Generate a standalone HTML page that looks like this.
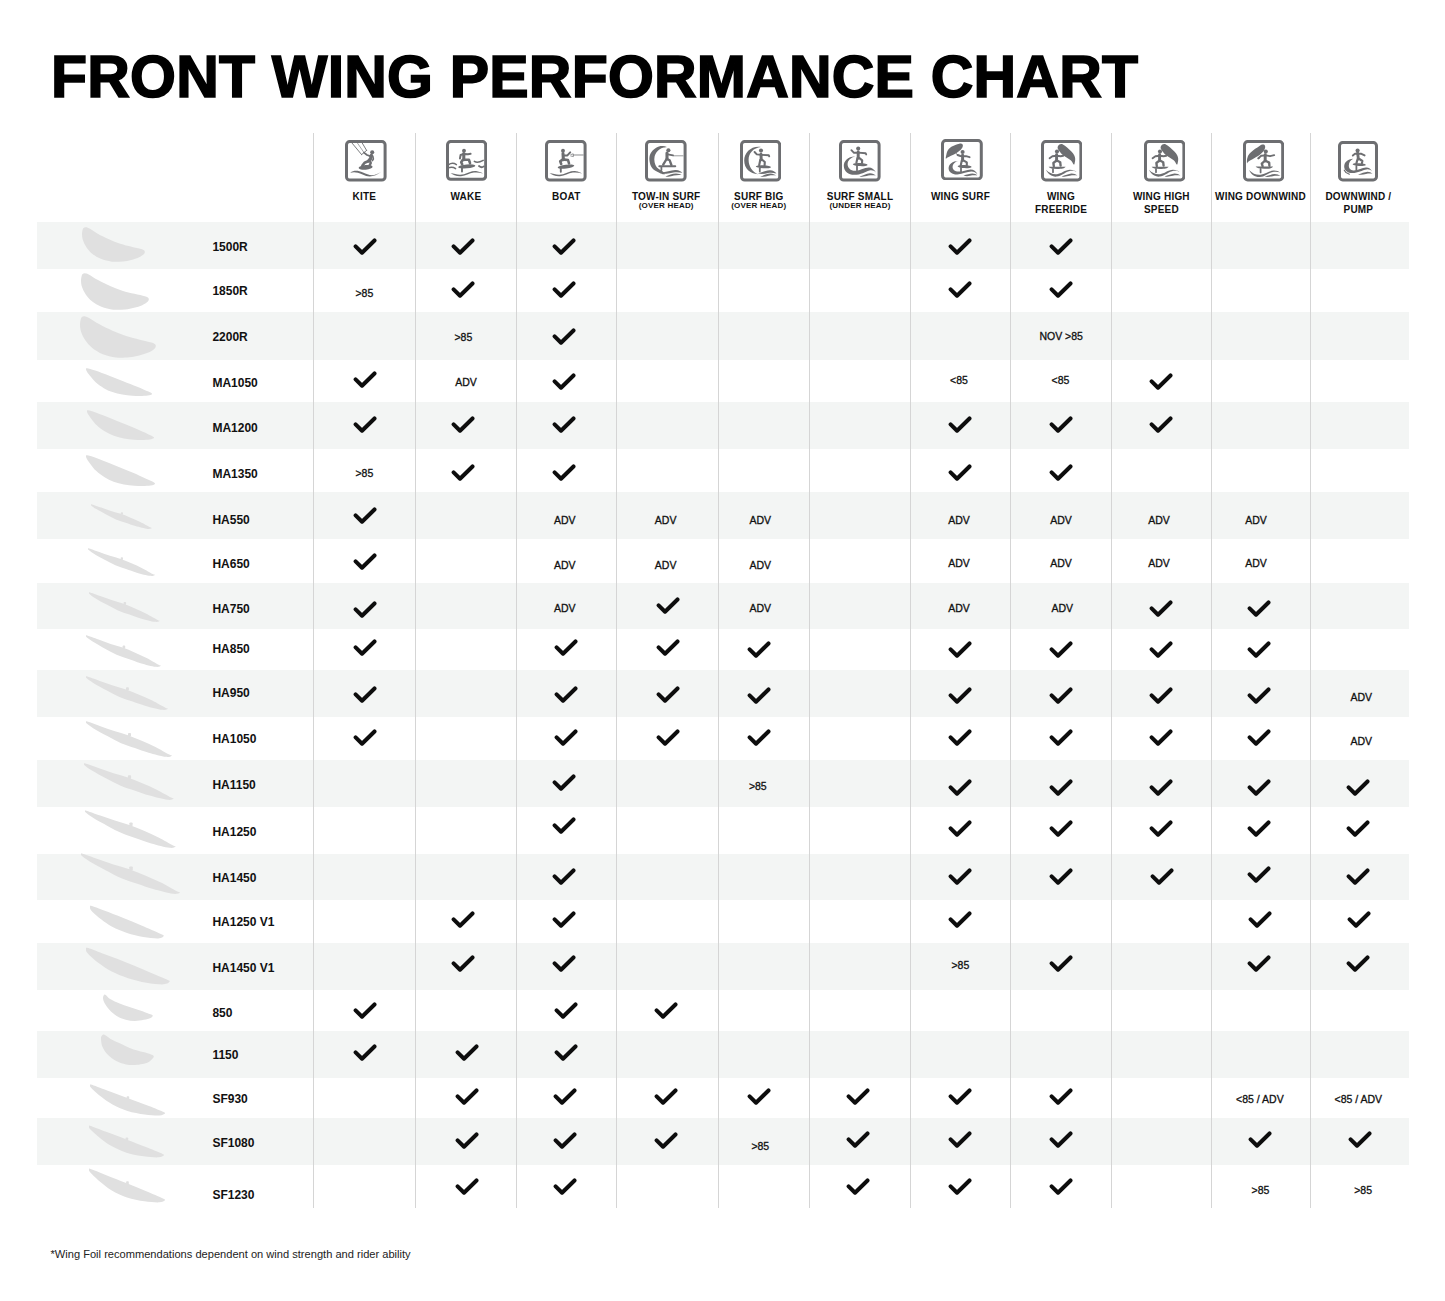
<!DOCTYPE html>
<html><head><meta charset="utf-8"><title>Front Wing Performance Chart</title>
<style>
html,body{margin:0;padding:0;background:#fff;}
body{width:1445px;height:1301px;position:relative;overflow:hidden;font-family:"Liberation Sans",sans-serif;color:#111;}
.a{position:absolute;}
h1{position:absolute;margin:0;left:51px;top:37px;font-size:59px;font-weight:bold;letter-spacing:0.2px;line-height:80px;white-space:nowrap;color:#000;-webkit-text-stroke:1.6px #000;}
.row{position:absolute;left:37px;width:1372px;background:#f3f5f4;}
.vl{position:absolute;top:133px;height:1075px;width:1px;background:#d5d5d5;}
.ck{position:absolute;fill:none;stroke:#0d0d0d;stroke-width:4;stroke-linecap:round;stroke-linejoin:round;}
.t{position:absolute;font-size:10.5px;line-height:12px;white-space:nowrap;text-align:center;width:100px;-webkit-text-stroke:0.3px #111;}
.lbl{position:absolute;left:212.4px;font-size:12px;font-weight:bold;line-height:14px;white-space:nowrap;}
.hd{position:absolute;top:191px;width:110px;text-align:center;font-weight:bold;font-size:10px;line-height:12.7px;white-space:nowrap;letter-spacing:0.2px;}
.hd small{display:block;font-size:8px;line-height:10px;margin-top:-3px;}
.ic{position:absolute;top:140px;width:42px;height:42px;}
.w{position:absolute;fill:#e0e0e0;}
.foot{position:absolute;left:50.5px;top:1246px;font-size:11.1px;line-height:16px;color:#222;white-space:nowrap;}
</style></head><body>
<h1>FRONT WING PERFORMANCE CHART</h1>

<div class="row" style="top:222px;height:47px"></div>
<div class="row" style="top:312px;height:48px"></div>
<div class="row" style="top:402px;height:47px"></div>
<div class="row" style="top:492px;height:47px"></div>
<div class="row" style="top:583px;height:46px"></div>
<div class="row" style="top:670px;height:47px"></div>
<div class="row" style="top:760px;height:47px"></div>
<div class="row" style="top:854px;height:46px"></div>
<div class="row" style="top:943px;height:47px"></div>
<div class="row" style="top:1031px;height:47px"></div>
<div class="row" style="top:1118px;height:47px"></div>
<div class="vl" style="left:313px"></div>
<div class="vl" style="left:415px"></div>
<div class="vl" style="left:516px"></div>
<div class="vl" style="left:616px"></div>
<div class="vl" style="left:718px"></div>
<div class="vl" style="left:809px"></div>
<div class="vl" style="left:910px"></div>
<div class="vl" style="left:1010px"></div>
<div class="vl" style="left:1111px"></div>
<div class="vl" style="left:1211px"></div>
<div class="vl" style="left:1310px"></div>
<div class="hd" style="left:309.4px">KITE</div>
<div class="hd" style="left:410.9px">WAKE</div>
<div class="hd" style="left:511.3px">BOAT</div>
<div class="hd" style="left:611.2px">TOW-IN SURF<small>(OVER HEAD)</small></div>
<div class="hd" style="left:703.8px">SURF BIG<small>(OVER HEAD)</small></div>
<div class="hd" style="left:805.0px">SURF SMALL<small>(UNDER HEAD)</small></div>
<div class="hd" style="left:905.5px">WING SURF</div>
<div class="hd" style="left:1006.0px">WING<br>FREERIDE</div>
<div class="hd" style="left:1106.4px">WING HIGH<br>SPEED</div>
<div class="hd" style="left:1205.5px">WING DOWNWIND</div>
<div class="hd" style="left:1303.4px">DOWNWIND /<br>PUMP</div>
<svg class="ic" style="left:345.2px;top:140px;width:41.6px;height:41.6px" viewBox="0 0 41.6 41.6"><rect x="1.5" y="1.5" width="38.6" height="38.6" rx="3.2" fill="none" stroke="#6d6e71" stroke-width="3"/><path d="M6.8 2.8 L16.6 14.6" fill="none" stroke="#6d6e71" stroke-width="0.90" stroke-linecap="round" stroke-linejoin="round"/><path d="M12.4 3 L19 12.6" fill="none" stroke="#6d6e71" stroke-width="0.60" stroke-linecap="round" stroke-linejoin="round"/><path d="M17.2 3 L21.6 10.4" fill="none" stroke="#6d6e71" stroke-width="0.90" stroke-linecap="round" stroke-linejoin="round"/><path d="M16.6 14.6 L21.6 10.4" fill="none" stroke="#6d6e71" stroke-width="0.90" stroke-linecap="round" stroke-linejoin="round"/><circle cx="27.2" cy="12.2" r="2.05" fill="#6d6e71"/><path d="M19 12.6 L22 15 L25.2 16.2" fill="none" stroke="#6d6e71" stroke-width="1.77" stroke-linecap="round" stroke-linejoin="round"/><path d="M26.4 15.4 L25.6 18.6 L23.6 21" fill="none" stroke="#6d6e71" stroke-width="3.30" stroke-linecap="round" stroke-linejoin="round"/><path d="M27.8 16 L28.4 19 L27.4 20.6" fill="none" stroke="#6d6e71" stroke-width="1.53" stroke-linecap="round" stroke-linejoin="round"/><path d="M23.6 21 L19.6 22.8 L17.4 25.6" fill="none" stroke="#6d6e71" stroke-width="2.60" stroke-linecap="round" stroke-linejoin="round"/><path d="M25 21 L25.8 23 L24.6 25.4" fill="none" stroke="#6d6e71" stroke-width="2.36" stroke-linecap="round" stroke-linejoin="round"/><ellipse cx="20.6" cy="27.4" rx="7" ry="2.3" transform="rotate(-5 20.6 27.4)" fill="#6d6e71"/><path d="M5.2 32.8 C9 30 13 30.4 18 32.6 C24 35.4 29 37 36.4 31.6 C30 36.8 24 38 17.6 34.6 C12 32 9 31.6 5.2 32.8 Z" fill="#6d6e71"/></svg>
<svg class="ic" style="left:445.6px;top:140px;width:41.2px;height:40.8px" viewBox="0 0 41.2 40.8"><rect x="1.5" y="1.5" width="38.2" height="37.8" rx="3.2" fill="none" stroke="#6d6e71" stroke-width="3"/><circle cx="18" cy="10.8" r="1.94" fill="#6d6e71"/><path d="M17.8 13.6 L17.8 19.8" fill="none" stroke="#6d6e71" stroke-width="3.07" stroke-linecap="round" stroke-linejoin="round"/><path d="M14 18.4 L14.6 15 L17.6 14 L22 14.2 L24.6 13.8" fill="none" stroke="#6d6e71" stroke-width="2.01" stroke-linecap="round" stroke-linejoin="round"/><path d="M16.8 19.8 L15.2 22.2 L16.2 24.4" fill="none" stroke="#6d6e71" stroke-width="2.60" stroke-linecap="round" stroke-linejoin="round"/><path d="M18.8 19.8 L23 19.8 L24 23.2" fill="none" stroke="#6d6e71" stroke-width="2.60" stroke-linecap="round" stroke-linejoin="round"/><ellipse cx="20.8" cy="26.4" rx="8.6" ry="1.9" transform="rotate(-5 20.8 26.4)" fill="#6d6e71"/><path d="M16 28 L16 31.6" fill="none" stroke="#6d6e71" stroke-width="1.89" stroke-linecap="round" stroke-linejoin="round"/><path d="M4.6 33 C9 34 13 35.4 18 34.2 C22 33.2 26 30.4 31 31.2 C33.5 31.6 35.5 32.4 37 33.6 C34 32.6 31 32.2 28 32.6 C23 33.4 20 36 15 36.2 C10 36.4 7 35 4.6 33 Z" fill="#6d6e71"/><path d="M2.4 24.8 Q6.4 22 10.4 24.6" fill="none" stroke="#6d6e71" stroke-width="1.5" stroke-linecap="round"/><path d="M2.4 27.8 Q6.6 26.6 9.6 28.6" fill="none" stroke="#6d6e71" stroke-width="1.5" stroke-linecap="round"/><path d="M28.4 21.4 Q31.6 23.4 37.2 20.4" fill="none" stroke="#6d6e71" stroke-width="1.6" stroke-linecap="round"/><path d="M33 26 Q35.6 28.2 37.8 26.4" fill="none" stroke="#6d6e71" stroke-width="1.8" stroke-linecap="round"/></svg>
<svg class="ic" style="left:545.2px;top:140px;width:41.6px;height:41.6px" viewBox="0 0 41.6 41.6"><rect x="1.5" y="1.5" width="38.6" height="38.6" rx="3.2" fill="none" stroke="#6d6e71" stroke-width="3"/><circle cx="18" cy="10.8" r="1.94" fill="#6d6e71"/><path d="M18 13.6 L18.4 19.6" fill="none" stroke="#6d6e71" stroke-width="3.07" stroke-linecap="round" stroke-linejoin="round"/><path d="M19.2 15.6 L22.4 15.4 L25.2 12.4" fill="none" stroke="#6d6e71" stroke-width="2.01" stroke-linecap="round" stroke-linejoin="round"/><path d="M25.8 14.6 L28.2 13.8 L28.4 16.6 L25.8 16" fill="none" stroke="#6d6e71" stroke-width="0.70" stroke-linecap="round" stroke-linejoin="round"/><path d="M28.4 15 L38.2 15" fill="none" stroke="#6d6e71" stroke-width="0.80" stroke-linecap="round" stroke-linejoin="round"/><path d="M17.6 19.6 L15.2 21.4 L16.2 24" fill="none" stroke="#6d6e71" stroke-width="2.60" stroke-linecap="round" stroke-linejoin="round"/><path d="M19.4 19.6 L23 20 L24 23.4" fill="none" stroke="#6d6e71" stroke-width="2.60" stroke-linecap="round" stroke-linejoin="round"/><ellipse cx="21" cy="26.6" rx="8.4" ry="1.9" transform="rotate(-7 21 26.6)" fill="#6d6e71"/><path d="M15.8 28.6 L15.8 31.8" fill="none" stroke="#6d6e71" stroke-width="1.89" stroke-linecap="round" stroke-linejoin="round"/><path d="M4.6 33 C9 34 13 35.4 18 34.2 C22 33.2 26 30.4 31 31.2 C33.5 31.6 35.5 32.4 37 33.6 C34 32.6 31 32.2 28 32.6 C23 33.4 20 36 15 36.2 C10 36.4 7 35 4.6 33 Z" fill="#6d6e71"/></svg>
<svg class="ic" style="left:645.2px;top:140px;width:41.6px;height:41.6px" viewBox="0 0 41.6 41.6"><rect x="1.5" y="1.5" width="38.6" height="38.6" rx="3.2" fill="none" stroke="#6d6e71" stroke-width="3"/><path d="M21.80 7.00 C21.53 6.67 16.97 5.80 14.80 6.20 C12.63 6.60 10.40 8.07 8.80 9.40 C7.20 10.73 5.93 12.47 5.20 14.20 C4.47 15.93 4.27 17.80 4.40 19.80 C4.53 21.80 5.07 24.40 6.00 26.20 C6.93 28.00 8.40 29.40 10.00 30.60 C11.60 31.80 13.93 32.80 15.60 33.40 C17.27 34.00 19.73 34.60 20.00 34.20 C20.27 33.80 18.53 32.13 17.20 31.00 C15.87 29.87 13.27 28.87 12.00 27.40 C10.73 25.93 10.00 24.00 9.60 22.20 C9.20 20.40 9.20 18.33 9.60 16.60 C10.00 14.87 10.87 13.20 12.00 11.80 C13.13 10.40 14.77 9.00 16.40 8.20 C18.03 7.40 22.07 7.33 21.80 7.00Z" fill="#6d6e71"/><path d="M15 32.4 C21 32.8 26 29.6 31 30 C34 30.2 36 31.4 37.4 32.8 C34.6 32.4 31.6 32 28.4 32.6 C24 33.6 20 34.6 15 32.4 Z" fill="#6d6e71"/><path d="M20.4 36.4 C24 35.6 27 33.6 31 33.6 C33.6 33.6 35.4 34.4 36.6 35 C34 34.8 31.6 34.8 29 35.6 C26 36.6 23.6 37 20.4 36.4 Z" fill="#6d6e71"/><circle cx="23.4" cy="10.2" r="2.05" fill="#6d6e71"/><path d="M22 13 L22 19" fill="none" stroke="#6d6e71" stroke-width="3.07" stroke-linecap="round" stroke-linejoin="round"/><path d="M22.8 14.4 L28 15.4" fill="none" stroke="#6d6e71" stroke-width="1.89" stroke-linecap="round" stroke-linejoin="round"/><path d="M28.4 15.8 L38 15.8" fill="none" stroke="#6d6e71" stroke-width="0.70" stroke-linecap="round" stroke-linejoin="round"/><path d="M21.6 19 L18.2 24.6" fill="none" stroke="#6d6e71" stroke-width="2.36" stroke-linecap="round" stroke-linejoin="round"/><path d="M22.6 19.2 L24.6 20.2 L26.4 25" fill="none" stroke="#6d6e71" stroke-width="2.36" stroke-linecap="round" stroke-linejoin="round"/><path d="M14.4 26.2 L30.2 26.2" fill="none" stroke="#6d6e71" stroke-width="2.12" stroke-linecap="round" stroke-linejoin="round"/><path d="M16.4 27 L16.4 30" fill="none" stroke="#6d6e71" stroke-width="1.77" stroke-linecap="round" stroke-linejoin="round"/></svg>
<svg class="ic" style="left:740.0px;top:140px;width:41.2px;height:41.6px" viewBox="0 0 41.2 41.6"><rect x="1.5" y="1.5" width="38.2" height="38.6" rx="3.2" fill="none" stroke="#6d6e71" stroke-width="3"/><path d="M21 7 C11.4 5.6 4.2 12.4 4.2 20.6 C4.2 28.4 10 34.2 18 34.2 C12.6 32 8.6 26.6 8.6 19.8 C8.6 13 13.6 7.8 21 7 Z" fill="#6d6e71"/><path d="M17.6 33 C22 33 25.4 30 30.2 30.2 C33 30.4 35 31.6 36.6 33.6 C33.8 32.8 31 32.4 28 33 C24.4 33.8 21.4 34.6 17.6 33 Z" fill="#6d6e71"/><path d="M20.2 36.4 C24 35.6 27 33.6 30.6 33.6 C33 33.6 34.6 34.6 36 35.6 C33.6 35.2 31.4 35.2 28.6 35.8 C25.6 36.6 23.4 37 20.2 36.4 Z" fill="#6d6e71"/><circle cx="21" cy="10.6" r="2.05" fill="#6d6e71"/><path d="M14.6 12 L16.8 14.4 L21 14.8 L28.8 15.2 L29.2 16.4" fill="none" stroke="#6d6e71" stroke-width="1.89" stroke-linecap="round" stroke-linejoin="round"/><path d="M21 14.2 L21.2 19.8" fill="none" stroke="#6d6e71" stroke-width="2.95" stroke-linecap="round" stroke-linejoin="round"/><path d="M20.3 19.8 L19.2 25.2" fill="none" stroke="#6d6e71" stroke-width="2.12" stroke-linecap="round" stroke-linejoin="round"/><path d="M22.2 19.8 L24.8 22 L24.6 25.2" fill="none" stroke="#6d6e71" stroke-width="2.12" stroke-linecap="round" stroke-linejoin="round"/><ellipse cx="23.4" cy="26.8" rx="7.6" ry="1.5" transform="rotate(3 23.4 26.8)" fill="#6d6e71"/><path d="M19.8 28.2 L19.8 31.6" fill="none" stroke="#6d6e71" stroke-width="1.77" stroke-linecap="round" stroke-linejoin="round"/></svg>
<svg class="ic" style="left:839.2px;top:140px;width:41.6px;height:41.6px" viewBox="0 0 41.6 41.6"><rect x="1.5" y="1.5" width="38.6" height="38.6" rx="3.2" fill="none" stroke="#6d6e71" stroke-width="3"/><path d="M16.2 16.4 C9 16.2 4.6 21 4.8 26 C5 31.4 9.4 34.8 15.2 34.8 C22 34.8 26 31.6 30.4 30.4 C33.2 29.8 35.4 30.6 37 32.6 C35 29 32.6 27.6 30 27.6 C25 27.8 21.6 30.6 16.4 30.8 C11.6 31 8.6 27.6 8.6 24.2 C8.6 20.4 11.8 17.4 16.2 16.4 Z" fill="#6d6e71"/><path d="M20.4 36.4 C24 35.6 27 33.4 31 33.2 C33.6 33.2 35.6 34.2 36.8 35.6 C34.4 35 32 35 29.4 35.6 C26 36.4 23.6 37 20.4 36.4 Z" fill="#6d6e71"/><circle cx="19.2" cy="8.6" r="2.05" fill="#6d6e71"/><path d="M12.4 10.2 L15 12.8 L19.4 12.6 L26.6 13.2 L27.2 14.4" fill="none" stroke="#6d6e71" stroke-width="1.89" stroke-linecap="round" stroke-linejoin="round"/><path d="M19.2 12 L19.2 18.2" fill="none" stroke="#6d6e71" stroke-width="2.95" stroke-linecap="round" stroke-linejoin="round"/><path d="M18.4 18.2 L17.4 22.8" fill="none" stroke="#6d6e71" stroke-width="2.12" stroke-linecap="round" stroke-linejoin="round"/><path d="M20.4 18.2 L23.2 20.4 L23 23" fill="none" stroke="#6d6e71" stroke-width="2.12" stroke-linecap="round" stroke-linejoin="round"/><ellipse cx="21.2" cy="24.6" rx="7.4" ry="1.5" transform="rotate(3 21.2 24.6)" fill="#6d6e71"/><path d="M18 26 L18 30.2" fill="none" stroke="#6d6e71" stroke-width="1.77" stroke-linecap="round" stroke-linejoin="round"/></svg>
<svg class="ic" style="left:941.0px;top:138.6px;width:41.8px;height:41.4px" viewBox="0 0 41.8 41.4"><rect x="1.5" y="1.5" width="38.8" height="38.4" rx="3.2" fill="none" stroke="#6d6e71" stroke-width="3"/><path d="M4.80 19.60 C4.60 19.10 5.10 16.90 5.40 15.60 C5.70 14.30 5.83 13.07 6.60 11.80 C7.37 10.53 8.37 9.10 10.00 8.00 C11.63 6.90 14.73 5.80 16.40 5.20 C18.07 4.60 19.10 4.30 20.00 4.40 C20.90 4.50 21.57 5.13 21.80 5.80 C22.03 6.47 21.90 7.43 21.40 8.40 C20.90 9.37 19.90 10.60 18.80 11.60 C17.70 12.60 16.27 13.53 14.80 14.40 C13.33 15.27 11.37 16.10 10.00 16.80 C8.63 17.50 7.47 18.13 6.60 18.60 C5.73 19.07 5.00 20.10 4.80 19.60Z" fill="#6d6e71"/><path d="M15.4 14.8 L17.4 16.2" fill="none" stroke="#6d6e71" stroke-width="1.00" stroke-linecap="round" stroke-linejoin="round"/><circle cx="21.6" cy="13" r="2.05" fill="#6d6e71"/><path d="M16.6 16 L19.4 17 L25 17.2 L28.6 18.2" fill="none" stroke="#6d6e71" stroke-width="1.89" stroke-linecap="round" stroke-linejoin="round"/><path d="M21.6 16.2 L21.6 21.6" fill="none" stroke="#6d6e71" stroke-width="2.95" stroke-linecap="round" stroke-linejoin="round"/><path d="M20.8 21.6 L19.8 26.2" fill="none" stroke="#6d6e71" stroke-width="2.12" stroke-linecap="round" stroke-linejoin="round"/><path d="M22.8 21.6 L25.8 23.4 L25.8 26.2" fill="none" stroke="#6d6e71" stroke-width="2.12" stroke-linecap="round" stroke-linejoin="round"/><ellipse cx="23.6" cy="27.6" rx="7" ry="1.5" transform="rotate(3 23.6 27.6)" fill="#6d6e71"/><path d="M20 28.8 L20 32.6" fill="none" stroke="#6d6e71" stroke-width="1.77" stroke-linecap="round" stroke-linejoin="round"/><path d="M17.4 22 C11.4 22 7.6 25.4 7.6 29.4 C7.8 33 11.4 35.6 16.4 35.4 C22 35.2 26 32.6 30.4 32.6 C33 32.6 35 33.6 36.6 35.6 C35 31.8 32.8 30.4 29.6 30.4 C25.4 30.6 22 32.6 17.6 32.6 C13.6 32.6 11.6 30.4 11.6 28.2 C11.6 25 14 22.8 17.4 22 Z" fill="#6d6e71"/><path d="M22.4 36.4 C26 35.8 28.6 34.6 31.4 34.6 C33.6 34.6 35.2 35.4 36.2 36.4 C33.6 36.2 31.4 36.2 29 36.8 C26.6 37.4 24.6 37.4 22.4 36.4 Z" fill="#6d6e71"/></svg>
<svg class="ic" style="left:1040.6px;top:140.2px;width:41.4px;height:41.4px" viewBox="0 0 41.4 41.4"><rect x="1.5" y="1.5" width="38.4" height="38.4" rx="3.2" fill="none" stroke="#6d6e71" stroke-width="3"/><path d="M16.80 6.60 C17.07 5.87 17.60 4.80 18.40 4.40 C19.20 4.00 20.27 3.63 21.60 4.20 C22.93 4.77 24.93 6.57 26.40 7.80 C27.87 9.03 29.27 10.37 30.40 11.60 C31.53 12.83 32.57 14.00 33.20 15.20 C33.83 16.40 34.10 17.60 34.20 18.80 C34.30 20.00 34.03 21.43 33.80 22.40 C33.57 23.37 33.43 24.90 32.80 24.60 C32.17 24.30 31.20 21.77 30.00 20.60 C28.80 19.43 27.00 18.57 25.60 17.60 C24.20 16.63 22.80 15.87 21.60 14.80 C20.40 13.73 19.20 12.20 18.40 11.20 C17.60 10.20 17.07 9.57 16.80 8.80 C16.53 8.03 16.53 7.33 16.80 6.60Z" fill="#6d6e71"/><circle cx="16" cy="11.6" r="2.05" fill="#6d6e71"/><path d="M8.6 18.2 L11.4 16.2 L15.8 15.8 L19.6 16.2 L22.2 15.8" fill="none" stroke="#6d6e71" stroke-width="1.89" stroke-linecap="round" stroke-linejoin="round"/><path d="M15.6 14.8 L15.6 20.8" fill="none" stroke="#6d6e71" stroke-width="2.95" stroke-linecap="round" stroke-linejoin="round"/><path d="M15 20.8 L12.4 23 L12.8 26.2" fill="none" stroke="#6d6e71" stroke-width="2.36" stroke-linecap="round" stroke-linejoin="round"/><path d="M16.4 20.8 L19.2 22.2 L19.6 25.6" fill="none" stroke="#6d6e71" stroke-width="2.36" stroke-linecap="round" stroke-linejoin="round"/><path d="M7.6 26.8 L24.6 26.8 C23.6 28.6 21 29 16 29 C11.4 29 8.6 28.6 7.6 26.8 Z" fill="#6d6e71"/><path d="M12 29 L12 32.2" fill="none" stroke="#6d6e71" stroke-width="1.77" stroke-linecap="round" stroke-linejoin="round"/><path d="M5 29.8 C8 33.2 12 34.6 16 34.2 C20.4 33.8 24 30 29 29.8 C32 29.8 34 30.8 35.6 32 C33.4 30.6 30.6 30.6 28 31.2 C23.4 32.4 20.4 36.2 15.6 36.6 C11 37 7 34 5 29.8 Z" fill="#6d6e71"/><path d="M20.6 36.4 C24 35.6 27.4 33.8 30.6 33.6 C33 33.6 35 34.4 36.4 35.6 C33.8 35.2 31.4 35.2 28.8 35.8 C26 36.4 23.4 37 20.6 36.4 Z" fill="#6d6e71"/></svg>
<svg class="ic" style="left:1144.0px;top:140.2px;width:41.4px;height:41.4px" viewBox="0 0 41.4 41.4"><rect x="1.5" y="1.5" width="38.4" height="38.4" rx="3.2" fill="none" stroke="#6d6e71" stroke-width="3"/><path d="M16.80 6.60 C17.07 5.87 17.60 4.80 18.40 4.40 C19.20 4.00 20.27 3.63 21.60 4.20 C22.93 4.77 24.93 6.57 26.40 7.80 C27.87 9.03 29.27 10.37 30.40 11.60 C31.53 12.83 32.57 14.00 33.20 15.20 C33.83 16.40 34.10 17.60 34.20 18.80 C34.30 20.00 34.03 21.43 33.80 22.40 C33.57 23.37 33.43 24.90 32.80 24.60 C32.17 24.30 31.20 21.77 30.00 20.60 C28.80 19.43 27.00 18.57 25.60 17.60 C24.20 16.63 22.80 15.87 21.60 14.80 C20.40 13.73 19.20 12.20 18.40 11.20 C17.60 10.20 17.07 9.57 16.80 8.80 C16.53 8.03 16.53 7.33 16.80 6.60Z" fill="#6d6e71"/><circle cx="16" cy="11.6" r="2.05" fill="#6d6e71"/><path d="M8.6 18.2 L11.4 16.2 L15.8 15.8 L19.6 16.2 L22.2 15.8" fill="none" stroke="#6d6e71" stroke-width="1.89" stroke-linecap="round" stroke-linejoin="round"/><path d="M15.6 14.8 L15.6 20.8" fill="none" stroke="#6d6e71" stroke-width="2.95" stroke-linecap="round" stroke-linejoin="round"/><path d="M15 20.8 L12.4 23 L12.8 26.2" fill="none" stroke="#6d6e71" stroke-width="2.36" stroke-linecap="round" stroke-linejoin="round"/><path d="M16.4 20.8 L19.2 22.2 L19.6 25.6" fill="none" stroke="#6d6e71" stroke-width="2.36" stroke-linecap="round" stroke-linejoin="round"/><path d="M7.6 26.8 L24.6 26.8 C23.6 28.6 21 29 16 29 C11.4 29 8.6 28.6 7.6 26.8 Z" fill="#6d6e71"/><path d="M12 29 L12 32.2" fill="none" stroke="#6d6e71" stroke-width="1.77" stroke-linecap="round" stroke-linejoin="round"/><path d="M5 29.8 C8 33.2 12 34.6 16 34.2 C20.4 33.8 24 30 29 29.8 C32 29.8 34 30.8 35.6 32 C33.4 30.6 30.6 30.6 28 31.2 C23.4 32.4 20.4 36.2 15.6 36.6 C11 37 7 34 5 29.8 Z" fill="#6d6e71"/><path d="M20.6 36.4 C24 35.6 27.4 33.8 30.6 33.6 C33 33.6 35 34.4 36.4 35.6 C33.8 35.2 31.4 35.2 28.8 35.8 C26 36.4 23.4 37 20.6 36.4 Z" fill="#6d6e71"/></svg>
<svg class="ic" style="left:1242.8px;top:140.2px;width:41.2px;height:41.4px" viewBox="0 0 41.2 41.4"><rect x="1.5" y="1.5" width="38.2" height="38.4" rx="3.2" fill="none" stroke="#6d6e71" stroke-width="3"/><path d="M4.00 23.20 C3.87 22.60 3.83 19.93 4.20 18.40 C4.57 16.87 5.23 15.33 6.20 14.00 C7.17 12.67 8.63 11.47 10.00 10.40 C11.37 9.33 13.00 8.53 14.40 7.60 C15.80 6.67 17.33 5.30 18.40 4.80 C19.47 4.30 20.17 4.27 20.80 4.60 C21.43 4.93 22.17 5.83 22.20 6.80 C22.23 7.77 21.83 9.13 21.00 10.40 C20.17 11.67 18.57 13.27 17.20 14.40 C15.83 15.53 14.33 16.27 12.80 17.20 C11.27 18.13 9.30 19.20 8.00 20.00 C6.70 20.80 5.67 21.47 5.00 22.00 C4.33 22.53 4.13 23.80 4.00 23.20Z" fill="#6d6e71"/><path d="M15.2 18.6 L16.4 17.6" fill="none" stroke="#6d6e71" stroke-width="1.42" stroke-linecap="round" stroke-linejoin="round"/><circle cx="22.8" cy="11.6" r="2.05" fill="#6d6e71"/><path d="M15.4 18.2 L18.2 15.8 L23 15.4 L27 16.2 L31.2 15.2" fill="none" stroke="#6d6e71" stroke-width="1.89" stroke-linecap="round" stroke-linejoin="round"/><path d="M22.2 14.8 L22.2 21" fill="none" stroke="#6d6e71" stroke-width="2.95" stroke-linecap="round" stroke-linejoin="round"/><path d="M21.6 21 L18.8 23.6 L19.6 26.2" fill="none" stroke="#6d6e71" stroke-width="2.36" stroke-linecap="round" stroke-linejoin="round"/><path d="M23 21 L26.2 22.6 L26.4 25.8" fill="none" stroke="#6d6e71" stroke-width="2.36" stroke-linecap="round" stroke-linejoin="round"/><path d="M12.6 26.6 L30 26.6 C29 28.4 26.4 28.8 21.4 28.8 C16.8 28.8 13.6 28.4 12.6 26.6 Z" fill="#6d6e71"/><path d="M17.6 29 L17.6 32.4" fill="none" stroke="#6d6e71" stroke-width="1.77" stroke-linecap="round" stroke-linejoin="round"/><path d="M6 30 C9.4 33.6 13.6 35.2 17.6 34.8 C22 34.4 25.4 31 30.4 30.6 C33.4 30.4 35.6 31.4 37.2 32.4 C34.6 31.6 31.6 31.6 29 32.2 C24.4 33.4 21.6 36.8 16.8 37 C12 37.2 8.2 34.6 6 30 Z" fill="#6d6e71"/><path d="M21.6 36.6 C25 35.8 28.4 34.2 31.6 34 C34 34 36 34.8 37.4 36 C34.8 35.6 32.4 35.6 29.8 36.2 C27 36.8 24.4 37.2 21.6 36.6 Z" fill="#6d6e71"/></svg>
<svg class="ic" style="left:1338.2px;top:141.2px;width:40.0px;height:40.4px" viewBox="0 0 40.0 40.4"><rect x="1.5" y="1.5" width="37.0" height="37.4" rx="3.2" fill="none" stroke="#6d6e71" stroke-width="3"/><path d="M15.2 17.8 C9.6 18 6.2 21.4 6.2 25.4 C6.2 29.4 9.6 32 14.4 32 C20 32 24.4 29 28.4 28.4 C31 28 32.8 28.8 34 30.6 C32.8 27.6 30.6 26.2 28 26.4 C24 26.8 20.4 29.2 15.8 29.4 C12.6 29.6 10.8 27.2 10.8 24.8 C10.8 21.8 12.4 19 15.2 17.8 Z" fill="#6d6e71"/><path d="M6.2 29.2 L8 31.6 L11.4 33.2" fill="none" stroke="#6d6e71" stroke-width="1.10" stroke-linecap="round" stroke-linejoin="round"/><path d="M20 33.4 C23.4 32.6 26.4 31 29.6 30.8 C31.6 30.8 33 31.6 34.6 32.8 C32.4 32.4 30.4 32.4 28 33 C25.4 33.6 23 34 20 33.4 Z" fill="#6d6e71"/><circle cx="19.6" cy="9.6" r="2.05" fill="#6d6e71"/><path d="M14.8 14.6 L17 12.8 L19.8 12.6 L23.4 12.8 L26.6 14.4" fill="none" stroke="#6d6e71" stroke-width="1.89" stroke-linecap="round" stroke-linejoin="round"/><path d="M19.6 12 L20.4 18" fill="none" stroke="#6d6e71" stroke-width="2.83" stroke-linecap="round" stroke-linejoin="round"/><path d="M19.6 18 L18.4 22.4" fill="none" stroke="#6d6e71" stroke-width="2.12" stroke-linecap="round" stroke-linejoin="round"/><path d="M21.4 18 L24.4 20 L23.8 22.6" fill="none" stroke="#6d6e71" stroke-width="2.12" stroke-linecap="round" stroke-linejoin="round"/><ellipse cx="21.2" cy="23.6" rx="6.6" ry="1.4" transform="rotate(3 21.2 23.6)" fill="#6d6e71"/><path d="M18.4 25 L18.4 29.6" fill="none" stroke="#6d6e71" stroke-width="1.77" stroke-linecap="round" stroke-linejoin="round"/></svg>
<svg class="w" style="left:82px;top:227px" width="63" height="35" viewBox="0 0 63 35"><path d="M3.78 0.17 C4.78 0.29 5.56 0.50 7.56 1.57 C9.55 2.65 12.52 4.87 15.75 6.65 C18.98 8.43 23.22 10.58 26.96 12.25 C30.71 13.92 34.48 15.45 38.24 16.70 C42.00 17.94 46.02 18.81 49.52 19.70 C53.01 20.60 57.03 21.31 59.22 22.05 C61.41 22.79 62.27 23.27 62.69 24.15 C63.11 25.02 62.74 26.25 61.74 27.30 C60.74 28.35 58.80 29.52 56.70 30.45 C54.60 31.38 51.77 32.23 49.14 32.90 C46.52 33.57 44.17 34.18 40.95 34.48 C37.73 34.77 33.47 35.09 29.80 34.65 C26.12 34.21 22.18 33.18 18.90 31.85 C15.62 30.52 12.56 28.60 10.14 26.67 C7.73 24.75 5.94 22.53 4.41 20.30 C2.88 18.07 1.68 15.52 0.94 13.30 C0.21 11.08 0.05 8.75 0.00 7.00 C-0.05 5.25 0.37 3.82 0.63 2.80 C0.89 1.78 1.05 1.31 1.57 0.88 C2.10 0.44 2.78 0.06 3.78 0.17Z"/></svg>
<svg class="w" style="left:81px;top:273px" width="68" height="37" viewBox="0 0 68 37"><path d="M4.08 0.18 C5.16 0.31 6.01 0.52 8.16 1.67 C10.31 2.81 13.51 5.15 17.00 7.03 C20.49 8.91 25.06 11.18 29.10 12.95 C33.15 14.72 37.22 16.34 41.28 17.65 C45.33 18.96 49.67 19.89 53.45 20.83 C57.22 21.77 61.55 22.53 63.92 23.31 C66.29 24.09 67.21 24.61 67.66 25.53 C68.11 26.46 67.72 27.75 66.64 28.86 C65.56 29.97 63.47 31.20 61.20 32.19 C58.93 33.18 55.87 34.07 53.04 34.78 C50.21 35.49 47.68 36.14 44.20 36.45 C40.72 36.75 36.13 37.09 32.16 36.63 C28.20 36.17 23.94 35.08 20.40 33.67 C16.86 32.26 13.55 30.23 10.95 28.19 C8.34 26.16 6.41 23.82 4.76 21.46 C3.11 19.10 1.81 16.40 1.02 14.06 C0.23 11.72 0.06 9.25 0.00 7.40 C-0.06 5.55 0.40 4.04 0.68 2.96 C0.96 1.88 1.13 1.39 1.70 0.93 C2.27 0.46 3.00 0.06 4.08 0.18Z"/></svg>
<svg class="w" style="left:80px;top:316px" width="76" height="42" viewBox="0 0 76 42"><path d="M4.56 0.21 C5.76 0.35 6.71 0.59 9.12 1.89 C11.53 3.19 15.10 5.85 19.00 7.98 C22.90 10.12 28.01 12.69 32.53 14.70 C37.05 16.71 41.60 18.54 46.13 20.03 C50.67 21.53 55.52 22.58 59.74 23.65 C63.95 24.72 68.79 25.57 71.44 26.46 C74.09 27.35 75.11 27.93 75.62 28.98 C76.13 30.03 75.68 31.50 74.48 32.76 C73.28 34.02 70.93 35.42 68.40 36.54 C65.87 37.66 62.45 38.67 59.28 39.48 C56.11 40.28 53.29 41.02 49.40 41.37 C45.51 41.72 40.38 42.10 35.95 41.58 C31.51 41.05 26.75 39.82 22.80 38.22 C18.85 36.62 15.15 34.31 12.24 32.00 C9.32 29.69 7.17 27.03 5.32 24.36 C3.47 21.69 2.03 18.62 1.14 15.96 C0.25 13.30 0.06 10.50 0.00 8.40 C-0.06 6.30 0.44 4.58 0.76 3.36 C1.08 2.13 1.27 1.58 1.90 1.05 C2.53 0.53 3.36 0.07 4.56 0.21Z"/></svg>
<svg class="w" style="left:86px;top:368px" width="66" height="28" viewBox="0 0 66 28"><path d="M0.99 0.14 C2.48 0.14 5.53 1.24 9.24 2.49 C12.95 3.75 18.57 5.89 23.23 7.67 C27.90 9.45 32.56 11.33 37.22 13.16 C41.89 14.99 47.01 16.91 51.22 18.65 C55.42 20.38 59.97 22.39 62.44 23.58 C64.90 24.76 65.85 25.14 66.00 25.76 C66.15 26.38 65.01 26.94 63.36 27.30 C61.71 27.66 58.96 27.87 56.10 27.94 C53.24 28.01 49.50 27.94 46.20 27.72 C42.90 27.50 39.60 27.21 36.30 26.60 C33.00 25.99 29.48 25.15 26.40 24.08 C23.32 23.01 20.57 21.75 17.82 20.16 C15.07 18.57 12.21 16.61 9.90 14.56 C7.59 12.51 5.55 9.85 3.96 7.84 C2.37 5.83 0.82 3.80 0.33 2.52 C-0.16 1.24 -0.50 0.14 0.99 0.14Z"/></svg>
<svg class="w" style="left:87px;top:410px" width="67" height="30" viewBox="0 0 67 30"><path d="M1.00 0.15 C2.51 0.14 5.62 1.32 9.38 2.67 C13.14 4.01 18.85 6.32 23.58 8.22 C28.32 10.12 33.05 12.14 37.79 14.10 C42.52 16.06 47.73 18.12 51.99 19.98 C56.26 21.84 60.88 23.99 63.38 25.26 C65.88 26.53 66.84 26.94 67.00 27.60 C67.16 28.27 65.99 28.86 64.32 29.25 C62.64 29.64 59.85 29.87 56.95 29.94 C54.05 30.02 50.25 29.94 46.90 29.70 C43.55 29.46 40.20 29.15 36.85 28.50 C33.50 27.85 29.93 26.95 26.80 25.80 C23.67 24.65 20.88 23.30 18.09 21.60 C15.30 19.90 12.40 17.80 10.05 15.60 C7.71 13.40 5.64 10.55 4.02 8.40 C2.40 6.25 0.84 4.08 0.34 2.70 C-0.17 1.33 -0.50 0.16 1.00 0.15Z"/></svg>
<svg class="w" style="left:86px;top:455px" width="69" height="31" viewBox="0 0 69 31"><path d="M1.03 0.15 C2.59 0.15 5.78 1.37 9.66 2.76 C13.54 4.15 19.41 6.53 24.29 8.49 C29.16 10.46 34.04 12.54 38.92 14.57 C43.79 16.60 49.15 18.72 53.54 20.65 C57.94 22.57 62.70 24.79 65.27 26.10 C67.85 27.41 68.84 27.83 69.00 28.52 C69.16 29.21 67.96 29.82 66.24 30.23 C64.52 30.63 61.64 30.86 58.65 30.94 C55.66 31.02 51.75 30.94 48.30 30.69 C44.85 30.44 41.40 30.12 37.95 29.45 C34.50 28.78 30.82 27.85 27.60 26.66 C24.38 25.47 21.50 24.08 18.63 22.32 C15.75 20.56 12.76 18.39 10.35 16.12 C7.94 13.85 5.81 10.90 4.14 8.68 C2.47 6.46 0.86 4.21 0.34 2.79 C-0.17 1.37 -0.52 0.16 1.03 0.15Z"/></svg>
<svg class="w" style="left:91px;top:504px" width="61" height="25" viewBox="0 0 61 25"><path d="M0.24 0.25 C1.93 0.62 6.95 2.48 10.25 3.60 C13.54 4.72 16.75 5.93 20.01 6.97 C23.26 8.02 26.51 8.73 29.77 9.85 C33.02 10.97 36.27 12.34 39.53 13.70 C42.78 15.06 46.03 16.42 49.29 18.02 C52.54 19.63 57.10 22.32 59.05 23.32 C61.00 24.33 61.41 23.79 61.00 24.05 C60.59 24.31 59.37 25.22 56.61 24.88 C53.84 24.53 48.07 23.02 44.41 22.00 C40.75 20.98 37.90 19.85 34.65 18.75 C31.39 17.65 28.14 16.75 24.89 15.38 C21.63 14.00 18.38 12.21 15.13 10.50 C11.87 8.79 7.87 6.65 5.37 5.12 C2.87 3.60 0.98 2.19 0.12 1.38 C-0.73 0.56 -1.44 -0.12 0.24 0.25Z"/><rect x="29.8" y="8.2" width="2.2" height="2.5" rx="0.8"/></svg>
<svg class="w" style="left:88px;top:548px" width="67" height="28" viewBox="0 0 67 28"><path d="M0.27 0.28 C2.12 0.70 7.64 2.78 11.26 4.03 C14.87 5.29 18.40 6.65 21.98 7.81 C25.55 8.98 29.12 9.78 32.70 11.03 C36.27 12.29 39.84 13.82 43.42 15.34 C46.99 16.87 50.56 18.39 54.14 20.19 C57.71 21.98 62.71 25.00 64.86 26.12 C67.00 27.25 67.45 26.65 67.00 26.94 C66.55 27.23 65.21 28.24 62.18 27.86 C59.14 27.48 52.80 25.78 48.78 24.64 C44.76 23.50 41.63 22.24 38.06 21.00 C34.48 19.76 30.91 18.76 27.34 17.22 C23.76 15.68 20.19 13.67 16.62 11.76 C13.04 9.85 8.64 7.44 5.90 5.74 C3.15 4.04 1.07 2.45 0.13 1.54 C-0.80 0.63 -1.59 -0.14 0.27 0.28Z"/><rect x="32.7" y="9.2" width="2.3" height="2.8" rx="0.8"/></svg>
<svg class="w" style="left:89px;top:592px" width="71" height="30" viewBox="0 0 71 30"><path d="M0.28 0.30 C2.25 0.75 8.09 2.98 11.93 4.32 C15.76 5.67 19.50 7.12 23.29 8.37 C27.07 9.62 30.86 10.47 34.65 11.82 C38.43 13.17 42.22 14.81 46.01 16.44 C49.79 18.08 53.58 19.70 57.37 21.63 C61.15 23.55 66.46 26.78 68.73 27.99 C71.00 29.20 71.47 28.55 71.00 28.86 C70.53 29.17 69.11 30.26 65.89 29.85 C62.67 29.44 55.95 27.62 51.69 26.40 C47.43 25.17 44.11 23.82 40.33 22.50 C36.54 21.18 32.75 20.10 28.97 18.45 C25.18 16.80 21.39 14.65 17.61 12.60 C13.82 10.55 9.16 7.98 6.25 6.15 C3.34 4.33 1.14 2.62 0.14 1.65 C-0.85 0.67 -1.68 -0.15 0.28 0.30Z"/><rect x="34.6" y="9.9" width="2.5" height="3.0" rx="0.8"/></svg>
<svg class="w" style="left:86px;top:635px" width="75" height="32" viewBox="0 0 75 32"><path d="M0.30 0.32 C2.37 0.79 8.55 3.17 12.60 4.61 C16.65 6.04 20.60 7.59 24.60 8.93 C28.60 10.26 32.60 11.17 36.60 12.61 C40.60 14.04 44.60 15.79 48.60 17.54 C52.60 19.28 56.60 21.02 60.60 23.07 C64.60 25.13 70.20 28.57 72.60 29.86 C75.00 31.14 75.50 30.45 75.00 30.78 C74.50 31.11 73.00 32.28 69.60 31.84 C66.20 31.40 59.10 29.47 54.60 28.16 C50.10 26.85 46.60 25.41 42.60 24.00 C38.60 22.59 34.60 21.44 30.60 19.68 C26.60 17.92 22.60 15.63 18.60 13.44 C14.60 11.25 9.68 8.51 6.60 6.56 C3.52 4.61 1.20 2.80 0.15 1.76 C-0.90 0.72 -1.77 -0.15 0.30 0.32Z"/><rect x="36.6" y="10.6" width="2.6" height="3.2" rx="0.8"/></svg>
<svg class="w" style="left:86px;top:676px" width="82" height="34" viewBox="0 0 82 34"><path d="M0.33 0.34 C2.60 0.84 9.35 3.37 13.78 4.90 C18.20 6.42 22.52 8.07 26.90 9.49 C31.27 10.90 35.64 11.87 40.02 13.40 C44.39 14.92 48.76 16.78 53.14 18.63 C57.51 20.48 61.88 22.33 66.26 24.51 C70.63 26.70 76.75 30.36 79.38 31.72 C82.00 33.09 82.55 32.36 82.00 32.71 C81.45 33.06 79.81 34.29 76.10 33.83 C72.38 33.37 64.62 31.31 59.70 29.92 C54.78 28.53 50.95 27.00 46.58 25.50 C42.20 24.00 37.83 22.78 33.46 20.91 C29.08 19.04 24.71 16.60 20.34 14.28 C15.96 11.96 10.58 9.04 7.22 6.97 C3.85 4.90 1.31 2.98 0.16 1.87 C-0.98 0.77 -1.94 -0.16 0.33 0.34Z"/><rect x="40.0" y="11.2" width="2.9" height="3.4" rx="0.8"/></svg>
<svg class="w" style="left:86px;top:721px" width="86" height="36" viewBox="0 0 86 36"><path d="M0.34 0.36 C2.72 0.89 9.80 3.57 14.45 5.18 C19.09 6.80 23.62 8.54 28.21 10.04 C32.79 11.54 37.38 12.57 41.97 14.18 C46.55 15.80 51.14 17.77 55.73 19.73 C60.31 21.69 64.90 23.65 69.49 25.96 C74.07 28.27 80.50 32.14 83.25 33.59 C86.00 35.03 86.57 34.26 86.00 34.63 C85.43 35.00 83.71 36.31 79.81 35.82 C75.91 35.33 67.77 33.15 62.61 31.68 C57.45 30.21 53.43 28.59 48.85 27.00 C44.26 25.41 39.67 24.12 35.09 22.14 C30.50 20.16 25.91 17.58 21.33 15.12 C16.74 12.66 11.09 9.57 7.57 7.38 C4.04 5.19 1.38 3.15 0.17 1.98 C-1.03 0.81 -2.04 -0.17 0.34 0.36Z"/><rect x="42.0" y="11.9" width="3.0" height="3.6" rx="0.8"/></svg>
<svg class="w" style="left:84px;top:763px" width="90" height="37" viewBox="0 0 90 37"><path d="M0.36 0.37 C2.85 0.92 10.26 3.67 15.12 5.33 C19.98 6.99 24.72 8.78 29.52 10.32 C34.32 11.86 39.12 12.92 43.92 14.58 C48.72 16.24 53.52 18.26 58.32 20.28 C63.12 22.29 67.92 24.30 72.72 26.68 C77.52 29.05 84.24 33.03 87.12 34.52 C90.00 36.01 90.60 35.21 90.00 35.59 C89.40 35.98 87.60 37.32 83.52 36.81 C79.44 36.31 70.92 34.07 65.52 32.56 C60.12 31.05 55.92 29.38 51.12 27.75 C46.32 26.12 41.52 24.79 36.72 22.75 C31.92 20.72 27.12 18.07 22.32 15.54 C17.52 13.01 11.61 9.84 7.92 7.58 C4.23 5.33 1.44 3.24 0.18 2.04 C-1.08 0.83 -2.13 -0.18 0.36 0.37Z"/><rect x="43.9" y="12.2" width="3.2" height="3.7" rx="0.8"/></svg>
<svg class="w" style="left:85px;top:810px" width="91" height="38" viewBox="0 0 91 38"><path d="M0.36 0.38 C2.88 0.94 10.37 3.77 15.29 5.47 C20.20 7.18 24.99 9.02 29.85 10.60 C34.70 12.19 39.55 13.27 44.41 14.97 C49.26 16.68 54.11 18.75 58.97 20.82 C63.82 22.89 68.67 24.96 73.53 27.40 C78.38 29.84 85.18 33.93 88.09 35.45 C91.00 36.98 91.61 36.16 91.00 36.56 C90.39 36.95 88.57 38.33 84.45 37.81 C80.32 37.29 71.71 34.99 66.25 33.44 C60.79 31.89 56.54 30.18 51.69 28.50 C46.83 26.82 41.98 25.46 37.13 23.37 C32.27 21.28 27.42 18.56 22.57 15.96 C17.71 13.36 11.74 10.10 8.01 7.79 C4.28 5.48 1.46 3.33 0.18 2.09 C-1.09 0.85 -2.15 -0.18 0.36 0.38Z"/><rect x="44.4" y="12.5" width="3.2" height="3.8" rx="0.8"/></svg>
<svg class="w" style="left:81px;top:853px" width="99" height="41" viewBox="0 0 99 41"><path d="M0.40 0.41 C3.14 1.02 11.29 4.07 16.63 5.90 C21.98 7.74 27.19 9.73 32.47 11.44 C37.75 13.15 43.03 14.32 48.31 16.15 C53.59 17.99 58.87 20.23 64.15 22.47 C69.43 24.70 74.71 26.93 79.99 29.56 C85.27 32.19 92.66 36.61 95.83 38.25 C99.00 39.90 99.66 39.02 99.00 39.44 C98.34 39.87 96.36 41.36 91.87 40.80 C87.38 40.23 78.01 37.75 72.07 36.08 C66.13 34.41 61.51 32.56 56.23 30.75 C50.95 28.94 45.67 27.47 40.39 25.21 C35.11 22.96 29.83 20.02 24.55 17.22 C19.27 14.42 12.77 10.90 8.71 8.40 C4.65 5.91 1.58 3.59 0.20 2.25 C-1.19 0.92 -2.34 -0.20 0.40 0.41Z"/><rect x="48.3" y="13.5" width="3.5" height="4.1" rx="0.8"/></svg>
<svg class="w" style="left:90px;top:905px" width="74" height="34" viewBox="0 0 74 34"><path d="M0.96 0.75 C3.31 1.15 8.76 3.61 14.06 5.61 C19.36 7.61 26.54 10.26 32.78 12.75 C39.02 15.24 45.26 17.91 51.50 20.57 C57.74 23.23 66.54 26.96 70.23 28.70 C73.91 30.43 73.94 30.19 73.63 30.97 C73.32 31.76 71.77 33.26 68.38 33.42 C64.98 33.59 58.51 32.88 53.28 31.96 C48.05 31.04 42.18 29.58 37.00 27.88 C31.82 26.18 26.52 24.03 22.20 21.76 C17.88 19.49 14.33 16.72 11.10 14.28 C7.87 11.84 4.66 8.99 2.81 7.14 C0.96 5.29 0.31 4.26 0.00 3.20 C-0.31 2.13 -1.38 0.35 0.96 0.75Z"/></svg>
<svg class="w" style="left:86px;top:947px" width="84" height="38" viewBox="0 0 84 38"><path d="M1.09 0.84 C3.75 1.29 9.94 4.03 15.96 6.27 C21.98 8.51 30.13 11.46 37.21 14.25 C44.30 17.04 51.38 20.02 58.46 22.99 C65.55 25.96 75.53 30.13 79.72 32.07 C83.90 34.01 83.93 33.74 83.58 34.62 C83.23 35.50 81.47 37.17 77.62 37.35 C73.77 37.54 66.42 36.75 60.48 35.72 C54.54 34.69 47.88 33.06 42.00 31.16 C36.12 29.26 30.10 26.85 25.20 24.32 C20.30 21.79 16.27 18.68 12.60 15.96 C8.93 13.24 5.29 10.04 3.19 7.98 C1.09 5.92 0.35 4.76 0.00 3.57 C-0.35 2.38 -1.57 0.39 1.09 0.84Z"/></svg>
<svg class="w" style="left:103px;top:994px" width="50" height="27" viewBox="0 0 50 27"><path d="M1.50 0.62 C2.17 0.31 2.98 1.39 4.00 2.16 C5.02 2.93 5.49 4.02 7.60 5.26 C9.71 6.51 13.62 8.37 16.65 9.61 C19.67 10.85 22.72 11.68 25.75 12.72 C28.78 13.75 31.82 14.79 34.85 15.82 C37.88 16.86 41.48 18.00 43.95 18.93 C46.43 19.86 49.09 20.58 49.70 21.41 C50.31 22.24 49.07 23.17 47.60 23.89 C46.13 24.62 43.53 25.24 40.90 25.76 C38.27 26.28 34.83 27.00 31.80 27.00 C28.78 27.00 25.77 26.59 22.75 25.76 C19.73 24.93 16.38 23.69 13.65 22.03 C10.92 20.38 8.38 18.00 6.35 15.82 C4.32 13.65 2.56 10.96 1.50 8.99 C0.44 7.02 0.00 5.42 0.00 4.02 C0.00 2.63 0.83 0.93 1.50 0.62Z"/></svg>
<svg class="w" style="left:101px;top:1034px" width="53" height="31" viewBox="0 0 53 31"><path d="M3.07 0.62 C4.53 1.14 6.92 3.51 9.54 4.96 C12.16 6.41 15.73 7.85 18.82 9.30 C21.90 10.75 24.96 12.40 28.04 13.64 C31.11 14.88 34.18 15.81 37.26 16.74 C40.34 17.67 44.00 18.39 46.53 19.22 C49.07 20.05 51.66 20.77 52.47 21.70 C53.28 22.63 52.20 23.77 51.41 24.80 C50.61 25.83 49.38 27.02 47.70 27.90 C46.02 28.78 43.59 29.55 41.34 30.07 C39.09 30.59 36.91 30.95 34.19 31.00 C31.46 31.05 28.04 31.00 24.96 30.38 C21.89 29.76 18.72 28.83 15.74 27.28 C12.76 25.73 9.47 23.46 7.10 21.08 C4.73 18.70 2.72 15.71 1.54 13.02 C0.35 10.33 0.12 6.82 0.00 4.96 C-0.12 3.10 0.28 2.58 0.80 1.86 C1.31 1.14 1.62 0.10 3.07 0.62Z"/></svg>
<svg class="w" style="left:90px;top:1084px" width="75" height="32" viewBox="0 0 75 32"><path d="M0.82 0.61 C3.67 1.31 10.90 4.29 17.10 6.56 C23.30 8.83 31.05 11.62 38.02 14.21 C45.00 16.80 53.03 19.80 58.95 22.11 C64.88 24.42 70.90 26.84 73.58 28.06 C76.25 29.29 75.70 28.89 75.00 29.44 C74.30 29.99 72.75 31.23 69.38 31.39 C66.00 31.55 60.06 31.15 54.75 30.40 C49.44 29.65 42.88 28.53 37.50 26.88 C32.12 25.23 26.88 22.83 22.50 20.48 C18.12 18.13 14.50 15.25 11.25 12.80 C8.00 10.35 4.88 7.50 3.00 5.76 C1.12 4.02 0.36 3.23 0.00 2.37 C-0.36 1.51 -2.03 -0.09 0.82 0.61Z"/><rect x="36.6" y="12.2" width="2.6" height="3.2" rx="0.8"/></svg>
<svg class="w" style="left:89px;top:1125px" width="75" height="33" viewBox="0 0 75 33"><path d="M0.82 0.63 C3.67 1.35 10.90 4.43 17.10 6.76 C23.30 9.10 31.05 11.98 38.02 14.65 C45.00 17.32 53.03 20.42 58.95 22.80 C64.88 25.18 70.90 27.68 73.58 28.94 C76.25 30.20 75.70 29.79 75.00 30.36 C74.30 30.93 72.75 32.21 69.38 32.37 C66.00 32.54 60.06 32.13 54.75 31.35 C49.44 30.57 42.88 29.42 37.50 27.72 C32.12 26.02 26.88 23.54 22.50 21.12 C18.12 18.70 14.50 15.73 11.25 13.20 C8.00 10.67 4.88 7.73 3.00 5.94 C1.12 4.15 0.36 3.33 0.00 2.44 C-0.36 1.56 -2.03 -0.09 0.82 0.63Z"/><rect x="36.6" y="12.5" width="2.6" height="3.3" rx="0.8"/></svg>
<svg class="w" style="left:89px;top:1168px" width="76" height="35" viewBox="0 0 76 35"><path d="M0.84 0.67 C3.72 1.43 11.05 4.70 17.33 7.17 C23.61 9.65 31.46 12.71 38.53 15.54 C45.60 18.38 53.73 21.66 59.74 24.18 C65.74 26.71 71.85 29.36 74.56 30.70 C77.27 32.03 76.71 31.59 76.00 32.20 C75.29 32.81 73.72 34.16 70.30 34.34 C66.88 34.51 60.86 34.07 55.48 33.25 C50.10 32.43 43.45 31.21 38.00 29.40 C32.55 27.59 27.23 24.97 22.80 22.40 C18.37 19.83 14.69 16.68 11.40 14.00 C8.11 11.32 4.94 8.20 3.04 6.30 C1.14 4.40 0.37 3.53 0.00 2.59 C-0.37 1.65 -2.05 -0.10 0.84 0.67Z"/><rect x="37.1" y="13.3" width="2.7" height="3.5" rx="0.8"/></svg>
<div class="lbl" style="top:239.9px">1500R</div>
<svg class="ck" style="left:352.8px;top:237.6px" width="24" height="18" viewBox="0 0 24 18"><path d="M2.59 8.31 L9.03 14.74 L21.51 2.46"/></svg>
<svg class="ck" style="left:450.9px;top:237.6px" width="24" height="18" viewBox="0 0 24 18"><path d="M2.59 8.31 L9.03 14.74 L21.51 2.46"/></svg>
<svg class="ck" style="left:552.2px;top:237.6px" width="24" height="18" viewBox="0 0 24 18"><path d="M2.59 8.31 L9.03 14.74 L21.51 2.46"/></svg>
<svg class="ck" style="left:948.4px;top:237.6px" width="24" height="18" viewBox="0 0 24 18"><path d="M2.59 8.31 L9.03 14.74 L21.51 2.46"/></svg>
<svg class="ck" style="left:1049.0px;top:237.6px" width="24" height="18" viewBox="0 0 24 18"><path d="M2.59 8.31 L9.03 14.74 L21.51 2.46"/></svg>
<div class="lbl" style="top:284.2px">1850R</div>
<div class="t" style="left:314.4px;top:286.8px">&gt;85</div>
<svg class="ck" style="left:450.9px;top:281.4px" width="24" height="18" viewBox="0 0 24 18"><path d="M2.59 8.31 L9.03 14.74 L21.51 2.46"/></svg>
<svg class="ck" style="left:552.2px;top:281.4px" width="24" height="18" viewBox="0 0 24 18"><path d="M2.59 8.31 L9.03 14.74 L21.51 2.46"/></svg>
<svg class="ck" style="left:948.4px;top:281.4px" width="24" height="18" viewBox="0 0 24 18"><path d="M2.59 8.31 L9.03 14.74 L21.51 2.46"/></svg>
<svg class="ck" style="left:1049.0px;top:281.4px" width="24" height="18" viewBox="0 0 24 18"><path d="M2.59 8.31 L9.03 14.74 L21.51 2.46"/></svg>
<div class="lbl" style="top:330.4px">2200R</div>
<div class="t" style="left:413.4px;top:331.0px">&gt;85</div>
<svg class="ck" style="left:552.2px;top:328.0px" width="24" height="18" viewBox="0 0 24 18"><path d="M2.59 8.31 L9.03 14.74 L21.51 2.46"/></svg>
<div class="t" style="left:1011.2px;top:330.4px">NOV &gt;85</div>
<div class="lbl" style="top:376.1px">MA1050</div>
<svg class="ck" style="left:352.8px;top:370.8px" width="24" height="18" viewBox="0 0 24 18"><path d="M2.59 8.31 L9.03 14.74 L21.51 2.46"/></svg>
<div class="t" style="left:416.0px;top:376.2px">ADV</div>
<svg class="ck" style="left:552.2px;top:372.7px" width="24" height="18" viewBox="0 0 24 18"><path d="M2.59 8.31 L9.03 14.74 L21.51 2.46"/></svg>
<div class="t" style="left:909.0px;top:374.4px">&lt;85</div>
<div class="t" style="left:1010.5px;top:374.4px">&lt;85</div>
<svg class="ck" style="left:1149.0px;top:372.7px" width="24" height="18" viewBox="0 0 24 18"><path d="M2.59 8.31 L9.03 14.74 L21.51 2.46"/></svg>
<div class="lbl" style="top:421.2px">MA1200</div>
<svg class="ck" style="left:352.8px;top:415.7px" width="24" height="18" viewBox="0 0 24 18"><path d="M2.59 8.31 L9.03 14.74 L21.51 2.46"/></svg>
<svg class="ck" style="left:450.9px;top:415.7px" width="24" height="18" viewBox="0 0 24 18"><path d="M2.59 8.31 L9.03 14.74 L21.51 2.46"/></svg>
<svg class="ck" style="left:552.2px;top:415.7px" width="24" height="18" viewBox="0 0 24 18"><path d="M2.59 8.31 L9.03 14.74 L21.51 2.46"/></svg>
<svg class="ck" style="left:948.4px;top:415.7px" width="24" height="18" viewBox="0 0 24 18"><path d="M2.59 8.31 L9.03 14.74 L21.51 2.46"/></svg>
<svg class="ck" style="left:1049.0px;top:415.7px" width="24" height="18" viewBox="0 0 24 18"><path d="M2.59 8.31 L9.03 14.74 L21.51 2.46"/></svg>
<svg class="ck" style="left:1149.0px;top:415.7px" width="24" height="18" viewBox="0 0 24 18"><path d="M2.59 8.31 L9.03 14.74 L21.51 2.46"/></svg>
<div class="lbl" style="top:466.8px">MA1350</div>
<div class="t" style="left:314.4px;top:467.2px">&gt;85</div>
<svg class="ck" style="left:450.9px;top:463.6px" width="24" height="18" viewBox="0 0 24 18"><path d="M2.59 8.31 L9.03 14.74 L21.51 2.46"/></svg>
<svg class="ck" style="left:552.2px;top:463.6px" width="24" height="18" viewBox="0 0 24 18"><path d="M2.59 8.31 L9.03 14.74 L21.51 2.46"/></svg>
<svg class="ck" style="left:948.4px;top:463.6px" width="24" height="18" viewBox="0 0 24 18"><path d="M2.59 8.31 L9.03 14.74 L21.51 2.46"/></svg>
<svg class="ck" style="left:1049.0px;top:463.6px" width="24" height="18" viewBox="0 0 24 18"><path d="M2.59 8.31 L9.03 14.74 L21.51 2.46"/></svg>
<div class="lbl" style="top:512.5px">HA550</div>
<svg class="ck" style="left:352.8px;top:507.4px" width="24" height="18" viewBox="0 0 24 18"><path d="M2.59 8.31 L9.03 14.74 L21.51 2.46"/></svg>
<div class="t" style="left:514.7px;top:514.0px">ADV</div>
<div class="t" style="left:615.6px;top:514.0px">ADV</div>
<div class="t" style="left:710.3px;top:514.0px">ADV</div>
<div class="t" style="left:909.0px;top:514.0px">ADV</div>
<div class="t" style="left:1011.0px;top:514.0px">ADV</div>
<div class="t" style="left:1109.0px;top:514.0px">ADV</div>
<div class="t" style="left:1206.0px;top:514.0px">ADV</div>
<div class="lbl" style="top:557.3px">HA650</div>
<svg class="ck" style="left:352.8px;top:552.7px" width="24" height="18" viewBox="0 0 24 18"><path d="M2.59 8.31 L9.03 14.74 L21.51 2.46"/></svg>
<div class="t" style="left:514.7px;top:558.8px">ADV</div>
<div class="t" style="left:615.6px;top:558.8px">ADV</div>
<div class="t" style="left:710.3px;top:558.8px">ADV</div>
<div class="t" style="left:909.0px;top:557.4px">ADV</div>
<div class="t" style="left:1011.0px;top:557.4px">ADV</div>
<div class="t" style="left:1109.0px;top:557.4px">ADV</div>
<div class="t" style="left:1206.0px;top:557.4px">ADV</div>
<div class="lbl" style="top:602.4px">HA750</div>
<svg class="ck" style="left:352.8px;top:600.6px" width="24" height="18" viewBox="0 0 24 18"><path d="M2.59 8.31 L9.03 14.74 L21.51 2.46"/></svg>
<div class="t" style="left:514.7px;top:601.5px">ADV</div>
<svg class="ck" style="left:656.4px;top:596.8px" width="24" height="18" viewBox="0 0 24 18"><path d="M2.59 8.31 L9.03 14.74 L21.51 2.46"/></svg>
<div class="t" style="left:710.3px;top:601.5px">ADV</div>
<div class="t" style="left:909.0px;top:601.5px">ADV</div>
<div class="t" style="left:1012.3px;top:601.5px">ADV</div>
<svg class="ck" style="left:1148.5px;top:599.7px" width="24" height="18" viewBox="0 0 24 18"><path d="M2.59 8.31 L9.03 14.74 L21.51 2.46"/></svg>
<svg class="ck" style="left:1247.2px;top:599.7px" width="24" height="18" viewBox="0 0 24 18"><path d="M2.59 8.31 L9.03 14.74 L21.51 2.46"/></svg>
<div class="lbl" style="top:642.0px">HA850</div>
<svg class="ck" style="left:352.8px;top:638.5px" width="24" height="18" viewBox="0 0 24 18"><path d="M2.59 8.31 L9.03 14.74 L21.51 2.46"/></svg>
<svg class="ck" style="left:554.0px;top:638.5px" width="24" height="18" viewBox="0 0 24 18"><path d="M2.59 8.31 L9.03 14.74 L21.51 2.46"/></svg>
<svg class="ck" style="left:656.4px;top:638.5px" width="24" height="18" viewBox="0 0 24 18"><path d="M2.59 8.31 L9.03 14.74 L21.51 2.46"/></svg>
<svg class="ck" style="left:746.6px;top:640.6px" width="24" height="18" viewBox="0 0 24 18"><path d="M2.59 8.31 L9.03 14.74 L21.51 2.46"/></svg>
<svg class="ck" style="left:948.4px;top:640.6px" width="24" height="18" viewBox="0 0 24 18"><path d="M2.59 8.31 L9.03 14.74 L21.51 2.46"/></svg>
<svg class="ck" style="left:1049.0px;top:640.6px" width="24" height="18" viewBox="0 0 24 18"><path d="M2.59 8.31 L9.03 14.74 L21.51 2.46"/></svg>
<svg class="ck" style="left:1148.5px;top:640.6px" width="24" height="18" viewBox="0 0 24 18"><path d="M2.59 8.31 L9.03 14.74 L21.51 2.46"/></svg>
<svg class="ck" style="left:1247.2px;top:640.6px" width="24" height="18" viewBox="0 0 24 18"><path d="M2.59 8.31 L9.03 14.74 L21.51 2.46"/></svg>
<div class="lbl" style="top:686.3px">HA950</div>
<svg class="ck" style="left:352.8px;top:686.3px" width="24" height="18" viewBox="0 0 24 18"><path d="M2.59 8.31 L9.03 14.74 L21.51 2.46"/></svg>
<svg class="ck" style="left:554.0px;top:686.3px" width="24" height="18" viewBox="0 0 24 18"><path d="M2.59 8.31 L9.03 14.74 L21.51 2.46"/></svg>
<svg class="ck" style="left:656.4px;top:686.3px" width="24" height="18" viewBox="0 0 24 18"><path d="M2.59 8.31 L9.03 14.74 L21.51 2.46"/></svg>
<svg class="ck" style="left:746.6px;top:687.4px" width="24" height="18" viewBox="0 0 24 18"><path d="M2.59 8.31 L9.03 14.74 L21.51 2.46"/></svg>
<svg class="ck" style="left:948.4px;top:687.4px" width="24" height="18" viewBox="0 0 24 18"><path d="M2.59 8.31 L9.03 14.74 L21.51 2.46"/></svg>
<svg class="ck" style="left:1049.0px;top:687.4px" width="24" height="18" viewBox="0 0 24 18"><path d="M2.59 8.31 L9.03 14.74 L21.51 2.46"/></svg>
<svg class="ck" style="left:1148.5px;top:687.4px" width="24" height="18" viewBox="0 0 24 18"><path d="M2.59 8.31 L9.03 14.74 L21.51 2.46"/></svg>
<svg class="ck" style="left:1247.2px;top:687.4px" width="24" height="18" viewBox="0 0 24 18"><path d="M2.59 8.31 L9.03 14.74 L21.51 2.46"/></svg>
<div class="t" style="left:1311.2px;top:690.6px">ADV</div>
<div class="lbl" style="top:732.4px">HA1050</div>
<svg class="ck" style="left:352.8px;top:729.1px" width="24" height="18" viewBox="0 0 24 18"><path d="M2.59 8.31 L9.03 14.74 L21.51 2.46"/></svg>
<svg class="ck" style="left:554.0px;top:729.1px" width="24" height="18" viewBox="0 0 24 18"><path d="M2.59 8.31 L9.03 14.74 L21.51 2.46"/></svg>
<svg class="ck" style="left:656.4px;top:729.1px" width="24" height="18" viewBox="0 0 24 18"><path d="M2.59 8.31 L9.03 14.74 L21.51 2.46"/></svg>
<svg class="ck" style="left:746.6px;top:729.1px" width="24" height="18" viewBox="0 0 24 18"><path d="M2.59 8.31 L9.03 14.74 L21.51 2.46"/></svg>
<svg class="ck" style="left:948.4px;top:729.1px" width="24" height="18" viewBox="0 0 24 18"><path d="M2.59 8.31 L9.03 14.74 L21.51 2.46"/></svg>
<svg class="ck" style="left:1049.0px;top:729.1px" width="24" height="18" viewBox="0 0 24 18"><path d="M2.59 8.31 L9.03 14.74 L21.51 2.46"/></svg>
<svg class="ck" style="left:1148.5px;top:729.1px" width="24" height="18" viewBox="0 0 24 18"><path d="M2.59 8.31 L9.03 14.74 L21.51 2.46"/></svg>
<svg class="ck" style="left:1247.2px;top:729.1px" width="24" height="18" viewBox="0 0 24 18"><path d="M2.59 8.31 L9.03 14.74 L21.51 2.46"/></svg>
<div class="t" style="left:1311.2px;top:734.6px">ADV</div>
<div class="lbl" style="top:777.5px">HA1150</div>
<svg class="ck" style="left:552.2px;top:773.7px" width="24" height="18" viewBox="0 0 24 18"><path d="M2.59 8.31 L9.03 14.74 L21.51 2.46"/></svg>
<div class="t" style="left:707.8px;top:779.7px">&gt;85</div>
<svg class="ck" style="left:948.4px;top:778.6px" width="24" height="18" viewBox="0 0 24 18"><path d="M2.59 8.31 L9.03 14.74 L21.51 2.46"/></svg>
<svg class="ck" style="left:1049.0px;top:778.6px" width="24" height="18" viewBox="0 0 24 18"><path d="M2.59 8.31 L9.03 14.74 L21.51 2.46"/></svg>
<svg class="ck" style="left:1148.5px;top:778.6px" width="24" height="18" viewBox="0 0 24 18"><path d="M2.59 8.31 L9.03 14.74 L21.51 2.46"/></svg>
<svg class="ck" style="left:1247.2px;top:778.6px" width="24" height="18" viewBox="0 0 24 18"><path d="M2.59 8.31 L9.03 14.74 L21.51 2.46"/></svg>
<svg class="ck" style="left:1346.1px;top:778.6px" width="24" height="18" viewBox="0 0 24 18"><path d="M2.59 8.31 L9.03 14.74 L21.51 2.46"/></svg>
<div class="lbl" style="top:825.4px">HA1250</div>
<svg class="ck" style="left:552.2px;top:816.7px" width="24" height="18" viewBox="0 0 24 18"><path d="M2.59 8.31 L9.03 14.74 L21.51 2.46"/></svg>
<svg class="ck" style="left:948.4px;top:819.7px" width="24" height="18" viewBox="0 0 24 18"><path d="M2.59 8.31 L9.03 14.74 L21.51 2.46"/></svg>
<svg class="ck" style="left:1049.0px;top:819.7px" width="24" height="18" viewBox="0 0 24 18"><path d="M2.59 8.31 L9.03 14.74 L21.51 2.46"/></svg>
<svg class="ck" style="left:1148.5px;top:819.7px" width="24" height="18" viewBox="0 0 24 18"><path d="M2.59 8.31 L9.03 14.74 L21.51 2.46"/></svg>
<svg class="ck" style="left:1247.2px;top:819.7px" width="24" height="18" viewBox="0 0 24 18"><path d="M2.59 8.31 L9.03 14.74 L21.51 2.46"/></svg>
<svg class="ck" style="left:1346.1px;top:819.7px" width="24" height="18" viewBox="0 0 24 18"><path d="M2.59 8.31 L9.03 14.74 L21.51 2.46"/></svg>
<div class="lbl" style="top:871.1px">HA1450</div>
<svg class="ck" style="left:552.2px;top:867.5px" width="24" height="18" viewBox="0 0 24 18"><path d="M2.59 8.31 L9.03 14.74 L21.51 2.46"/></svg>
<svg class="ck" style="left:948.4px;top:867.5px" width="24" height="18" viewBox="0 0 24 18"><path d="M2.59 8.31 L9.03 14.74 L21.51 2.46"/></svg>
<svg class="ck" style="left:1049.0px;top:867.5px" width="24" height="18" viewBox="0 0 24 18"><path d="M2.59 8.31 L9.03 14.74 L21.51 2.46"/></svg>
<svg class="ck" style="left:1150.1px;top:867.9px" width="24" height="18" viewBox="0 0 24 18"><path d="M2.59 8.31 L9.03 14.74 L21.51 2.46"/></svg>
<svg class="ck" style="left:1247.2px;top:866.2px" width="24" height="18" viewBox="0 0 24 18"><path d="M2.59 8.31 L9.03 14.74 L21.51 2.46"/></svg>
<svg class="ck" style="left:1346.1px;top:867.5px" width="24" height="18" viewBox="0 0 24 18"><path d="M2.59 8.31 L9.03 14.74 L21.51 2.46"/></svg>
<div class="lbl" style="top:915.3px">HA1250 V1</div>
<svg class="ck" style="left:450.9px;top:911.3px" width="24" height="18" viewBox="0 0 24 18"><path d="M2.59 8.31 L9.03 14.74 L21.51 2.46"/></svg>
<svg class="ck" style="left:552.2px;top:911.3px" width="24" height="18" viewBox="0 0 24 18"><path d="M2.59 8.31 L9.03 14.74 L21.51 2.46"/></svg>
<svg class="ck" style="left:948.4px;top:911.3px" width="24" height="18" viewBox="0 0 24 18"><path d="M2.59 8.31 L9.03 14.74 L21.51 2.46"/></svg>
<svg class="ck" style="left:1248.0px;top:911.3px" width="24" height="18" viewBox="0 0 24 18"><path d="M2.59 8.31 L9.03 14.74 L21.51 2.46"/></svg>
<svg class="ck" style="left:1347.0px;top:911.3px" width="24" height="18" viewBox="0 0 24 18"><path d="M2.59 8.31 L9.03 14.74 L21.51 2.46"/></svg>
<div class="lbl" style="top:961.2px">HA1450 V1</div>
<svg class="ck" style="left:450.9px;top:954.8px" width="24" height="18" viewBox="0 0 24 18"><path d="M2.59 8.31 L9.03 14.74 L21.51 2.46"/></svg>
<svg class="ck" style="left:552.2px;top:954.8px" width="24" height="18" viewBox="0 0 24 18"><path d="M2.59 8.31 L9.03 14.74 L21.51 2.46"/></svg>
<div class="t" style="left:910.4px;top:958.9px">&gt;85</div>
<svg class="ck" style="left:1049.0px;top:955.0px" width="24" height="18" viewBox="0 0 24 18"><path d="M2.59 8.31 L9.03 14.74 L21.51 2.46"/></svg>
<svg class="ck" style="left:1247.2px;top:955.0px" width="24" height="18" viewBox="0 0 24 18"><path d="M2.59 8.31 L9.03 14.74 L21.51 2.46"/></svg>
<svg class="ck" style="left:1346.1px;top:955.0px" width="24" height="18" viewBox="0 0 24 18"><path d="M2.59 8.31 L9.03 14.74 L21.51 2.46"/></svg>
<div class="lbl" style="top:1006.2px">850</div>
<svg class="ck" style="left:352.8px;top:1002.4px" width="24" height="18" viewBox="0 0 24 18"><path d="M2.59 8.31 L9.03 14.74 L21.51 2.46"/></svg>
<svg class="ck" style="left:554.0px;top:1002.4px" width="24" height="18" viewBox="0 0 24 18"><path d="M2.59 8.31 L9.03 14.74 L21.51 2.46"/></svg>
<svg class="ck" style="left:653.8px;top:1002.4px" width="24" height="18" viewBox="0 0 24 18"><path d="M2.59 8.31 L9.03 14.74 L21.51 2.46"/></svg>
<div class="lbl" style="top:1048.2px">1150</div>
<svg class="ck" style="left:352.8px;top:1043.5px" width="24" height="18" viewBox="0 0 24 18"><path d="M2.59 8.31 L9.03 14.74 L21.51 2.46"/></svg>
<svg class="ck" style="left:455.4px;top:1043.5px" width="24" height="18" viewBox="0 0 24 18"><path d="M2.59 8.31 L9.03 14.74 L21.51 2.46"/></svg>
<svg class="ck" style="left:554.0px;top:1043.5px" width="24" height="18" viewBox="0 0 24 18"><path d="M2.59 8.31 L9.03 14.74 L21.51 2.46"/></svg>
<div class="lbl" style="top:1092.4px">SF930</div>
<svg class="ck" style="left:455.4px;top:1088.1px" width="24" height="18" viewBox="0 0 24 18"><path d="M2.59 8.31 L9.03 14.74 L21.51 2.46"/></svg>
<svg class="ck" style="left:552.5px;top:1088.1px" width="24" height="18" viewBox="0 0 24 18"><path d="M2.59 8.31 L9.03 14.74 L21.51 2.46"/></svg>
<svg class="ck" style="left:653.8px;top:1088.1px" width="24" height="18" viewBox="0 0 24 18"><path d="M2.59 8.31 L9.03 14.74 L21.51 2.46"/></svg>
<svg class="ck" style="left:746.6px;top:1088.1px" width="24" height="18" viewBox="0 0 24 18"><path d="M2.59 8.31 L9.03 14.74 L21.51 2.46"/></svg>
<svg class="ck" style="left:846.2px;top:1088.1px" width="24" height="18" viewBox="0 0 24 18"><path d="M2.59 8.31 L9.03 14.74 L21.51 2.46"/></svg>
<svg class="ck" style="left:948.3px;top:1088.1px" width="24" height="18" viewBox="0 0 24 18"><path d="M2.59 8.31 L9.03 14.74 L21.51 2.46"/></svg>
<svg class="ck" style="left:1049.0px;top:1088.1px" width="24" height="18" viewBox="0 0 24 18"><path d="M2.59 8.31 L9.03 14.74 L21.51 2.46"/></svg>
<div class="t" style="left:1209.9px;top:1092.5px">&lt;85 / ADV</div>
<div class="t" style="left:1308.3px;top:1092.5px">&lt;85 / ADV</div>
<div class="lbl" style="top:1135.9px">SF1080</div>
<svg class="ck" style="left:455.4px;top:1132.4px" width="24" height="18" viewBox="0 0 24 18"><path d="M2.59 8.31 L9.03 14.74 L21.51 2.46"/></svg>
<svg class="ck" style="left:552.5px;top:1132.4px" width="24" height="18" viewBox="0 0 24 18"><path d="M2.59 8.31 L9.03 14.74 L21.51 2.46"/></svg>
<svg class="ck" style="left:653.8px;top:1132.4px" width="24" height="18" viewBox="0 0 24 18"><path d="M2.59 8.31 L9.03 14.74 L21.51 2.46"/></svg>
<div class="t" style="left:710.3px;top:1139.8px">&gt;85</div>
<svg class="ck" style="left:846.2px;top:1131.4px" width="24" height="18" viewBox="0 0 24 18"><path d="M2.59 8.31 L9.03 14.74 L21.51 2.46"/></svg>
<svg class="ck" style="left:948.3px;top:1131.4px" width="24" height="18" viewBox="0 0 24 18"><path d="M2.59 8.31 L9.03 14.74 L21.51 2.46"/></svg>
<svg class="ck" style="left:1049.0px;top:1131.4px" width="24" height="18" viewBox="0 0 24 18"><path d="M2.59 8.31 L9.03 14.74 L21.51 2.46"/></svg>
<svg class="ck" style="left:1247.6px;top:1131.4px" width="24" height="18" viewBox="0 0 24 18"><path d="M2.59 8.31 L9.03 14.74 L21.51 2.46"/></svg>
<svg class="ck" style="left:1348.1px;top:1131.4px" width="24" height="18" viewBox="0 0 24 18"><path d="M2.59 8.31 L9.03 14.74 L21.51 2.46"/></svg>
<div class="lbl" style="top:1188.0px">SF1230</div>
<svg class="ck" style="left:455.4px;top:1178.1px" width="24" height="18" viewBox="0 0 24 18"><path d="M2.59 8.31 L9.03 14.74 L21.51 2.46"/></svg>
<svg class="ck" style="left:552.5px;top:1178.1px" width="24" height="18" viewBox="0 0 24 18"><path d="M2.59 8.31 L9.03 14.74 L21.51 2.46"/></svg>
<svg class="ck" style="left:846.2px;top:1177.8px" width="24" height="18" viewBox="0 0 24 18"><path d="M2.59 8.31 L9.03 14.74 L21.51 2.46"/></svg>
<svg class="ck" style="left:948.3px;top:1177.8px" width="24" height="18" viewBox="0 0 24 18"><path d="M2.59 8.31 L9.03 14.74 L21.51 2.46"/></svg>
<svg class="ck" style="left:1049.0px;top:1177.8px" width="24" height="18" viewBox="0 0 24 18"><path d="M2.59 8.31 L9.03 14.74 L21.51 2.46"/></svg>
<div class="t" style="left:1210.5px;top:1183.6px">&gt;85</div>
<div class="t" style="left:1313.1px;top:1183.6px">&gt;85</div>
<div class="foot">*Wing Foil recommendations dependent on wind strength and rider ability</div>
</body></html>
